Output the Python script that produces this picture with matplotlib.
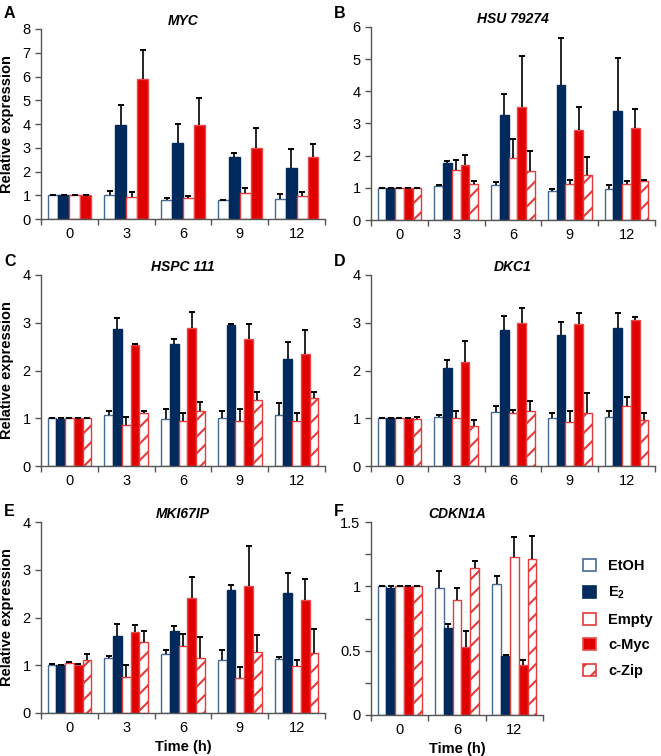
import matplotlib
matplotlib.use('Agg')
import matplotlib.pyplot as plt
import matplotlib.patches as mpatches
import numpy as np

plt.rcParams['font.family'] = ['Liberation Sans', 'DejaVu Sans']
plt.rcParams['mathtext.fontset'] = 'custom'
plt.rcParams['mathtext.rm'] = 'Liberation Sans'
plt.rcParams['mathtext.bf'] = 'Liberation Sans:bold'
plt.rcParams['hatch.linewidth'] = 1.5

# ---- data ----
series = ['EtOH', 'E2', 'Empty', 'c-Myc', 'c-Zip']
times5 = ['0', '3', '6', '9', '12']
times3 = ['0', '6', '12']

myc_vals = {
    'EtOH': [1.0, 1.0, 0.8, 0.78, 0.85],
    'E2': [1.0, 3.95, 3.22, 2.62, 2.15],
    'Empty': [1.0, 0.92, 0.88, 1.1, 0.95],
    'c-Myc': [1.0, 5.9, 3.95, 2.97, 2.6],
}
myc_err = {
    'EtOH': [0.0, 0.2, 0.1, 0.03, 0.22],
    'E2': [0.02, 0.85, 0.8, 0.17, 0.8],
    'Empty': [0.0, 0.2, 0.08, 0.22, 0.17],
    'c-Myc': [0.0, 1.2, 1.15, 0.85, 0.55],
}

hsu_vals = {
    'EtOH': [1.0, 1.05, 1.1, 0.9, 0.97],
    'E2': [1.0, 1.77, 3.27, 4.2, 3.4],
    'Empty': [1.0, 1.55, 1.92, 1.13, 1.13],
    'c-Myc': [1.0, 1.7, 3.5, 2.8, 2.85],
    'c-Zip': [1.0, 1.13, 1.53, 1.4, 1.22],
}
hsu_err = {
    'EtOH': [0.0, 0.05, 0.07, 0.07, 0.13],
    'E2': [0.0, 0.07, 0.65, 1.45, 1.63],
    'Empty': [0.0, 0.33, 0.6, 0.12, 0.08],
    'c-Myc': [0.0, 0.33, 1.6, 0.7, 0.6],
    'c-Zip': [0.0, 0.08, 0.6, 0.57, 0.02],
}

hspc_vals = {
    'EtOH': [1.0, 1.06, 0.98, 1.0, 1.07],
    'E2': [0.99, 2.87, 2.55, 2.95, 2.25],
    'Empty': [1.0, 0.86, 0.95, 0.95, 0.95],
    'c-Myc': [1.0, 2.53, 2.88, 2.67, 2.35],
    'c-Zip': [1.0, 1.12, 1.15, 1.38, 1.43],
}
hspc_err = {
    'EtOH': [0.0, 0.1, 0.22, 0.15, 0.24],
    'E2': [0.01, 0.22, 0.1, 0.03, 0.35],
    'Empty': [0.0, 0.17, 0.16, 0.24, 0.16],
    'c-Myc': [0.0, 0.02, 0.35, 0.3, 0.5],
    'c-Zip': [0.0, 0.04, 0.18, 0.18, 0.11],
}

dkc_vals = {
    'EtOH': [1.0, 1.03, 1.13, 1.0, 1.03],
    'E2': [1.0, 2.05, 2.85, 2.75, 2.9],
    'Empty': [1.0, 1.0, 1.1, 0.93, 1.25],
    'c-Myc': [1.0, 2.17, 3.0, 2.98, 3.05],
    'c-Zip': [0.98, 0.83, 1.15, 1.12, 0.97],
}
dkc_err = {
    'EtOH': [0.0, 0.03, 0.12, 0.12, 0.12],
    'E2': [0.01, 0.18, 0.3, 0.27, 0.3],
    'Empty': [0.0, 0.15, 0.08, 0.22, 0.2],
    'c-Myc': [0.0, 0.45, 0.3, 0.22, 0.08],
    'c-Zip': [0.04, 0.14, 0.22, 0.4, 0.14],
}

mki_vals = {
    'EtOH': [1.01, 1.15, 1.24, 1.12, 1.14],
    'E2': [1.0, 1.61, 1.72, 2.58, 2.51],
    'Empty': [1.05, 0.76, 1.4, 0.73, 0.98],
    'c-Myc': [1.01, 1.69, 2.4, 2.65, 2.36],
    'c-Zip': [1.12, 1.48, 1.15, 1.28, 1.26],
}
mki_err = {
    'EtOH': [0.01, 0.04, 0.08, 0.2, 0.04],
    'E2': [0.0, 0.26, 0.1, 0.1, 0.43],
    'Empty': [0.02, 0.24, 0.25, 0.24, 0.14],
    'c-Myc': [0.01, 0.16, 0.45, 0.85, 0.45],
    'c-Zip': [0.12, 0.24, 0.44, 0.36, 0.49],
}

cdk_vals = {
    'EtOH': [1.0, 0.99, 1.02],
    'E2': [0.99, 0.68, 0.46],
    'Empty': [1.0, 0.89, 1.23],
    'c-Myc': [1.0, 0.53, 0.39],
    'c-Zip': [1.0, 1.14, 1.21],
}
cdk_err = {
    'EtOH': [0.0, 0.13, 0.06],
    'E2': [0.01, 0.03, 0.01],
    'Empty': [0.0, 0.1, 0.15],
    'c-Myc': [0.0, 0.12, 0.04],
    'c-Zip': [0.0, 0.06, 0.18],
}

# ---- styles ----
NAVY = '#002a5c'
RED = '#e00000'
styles = {
    'EtOH': dict(facecolor='white', edgecolor='#46698f', hatch=None),
    'E2': dict(facecolor=NAVY, edgecolor=NAVY, hatch=None),
    'Empty': dict(facecolor='white', edgecolor='#e53a3a', hatch=None),
    'c-Myc': dict(facecolor=RED, edgecolor='#e84a4a', hatch=None),
    'c-Zip': dict(facecolor='white', edgecolor='#e53a3a', hatch='//'),
}

W, H = 661, 756
fig = plt.figure(figsize=(W / 100, H / 100), dpi=100)


def rect(left, right, y0, ytop):
    return [left / W, 1 - y0 / H, (right - left) / W, (y0 - ytop) / H]


def panel(r, vals, errs, labels, ymax, yticks, title, ylabel=False,
          xlabel=False, minor_y=None):
    ax = fig.add_axes(r)
    names = [s for s in series if s in vals]
    n = len(names)
    x = np.arange(len(labels))
    gw = 0.77
    bw = gw / n
    for i, s in enumerate(names):
        pos = x - gw / 2 + bw * (i + 0.5)
        st = styles[s]
        ax.bar(pos, vals[s], bw, facecolor=st['facecolor'],
               edgecolor=st['edgecolor'], hatch=st['hatch'], linewidth=1.0,
               zorder=2)
        v = np.array(vals[s])
        err = np.array(errs[s])
        # upper error bars only, cap on top
        ax.vlines(pos, v, v + err, color='black', linewidth=1.2, zorder=3)
        ax.plot(pos, v + err, linestyle='none', marker='_', markersize=5,
                markeredgewidth=1.4, color='black', zorder=3)
    ax.set_xlim(-0.5, len(labels) - 0.5)
    ax.set_ylim(0, ymax)
    ax.set_yticks(yticks)
    ax.set_yticklabels([('%g' % t) for t in yticks])
    if minor_y is not None:
        ax.set_yticks(minor_y, minor=True)
    ax.set_xticks(x)
    ax.set_xticklabels(labels)
    ax.set_xticks(np.arange(len(labels) + 1) - 0.5, minor=True)
    ax.tick_params(axis='x', which='major', length=0, pad=6, labelsize=10.5)
    ax.tick_params(axis='x', which='minor', length=4, width=1, color='#555555')
    ax.tick_params(axis='y', which='both', length=4, width=1, color='#555555',
                   labelsize=10.5)
    for sp in ['top', 'right']:
        ax.spines[sp].set_visible(False)
    for sp in ['left', 'bottom']:
        ax.spines[sp].set_color('#555555')
        ax.spines[sp].set_linewidth(1.0)
    ax.set_title(title, fontsize=10, fontweight='bold', fontstyle='italic',
                 pad=3)
    if ylabel:
        ax.set_ylabel('Relative expression', fontsize=10.5, fontweight='bold',
                      labelpad=6)
    if xlabel:
        ax.set_xlabel('Time (h)', fontsize=10.5, fontweight='bold', labelpad=3)
    return ax


panel(rect(41, 325, 219, 29), myc_vals, myc_err, times5, 8, range(0, 9),
      'MYC', ylabel=True)
panel(rect(371, 655, 220, 27), hsu_vals, hsu_err, times5, 6, range(0, 7),
      'HSU 79274')
panel(rect(41, 325, 466, 275), hspc_vals, hspc_err, times5, 4, range(0, 5),
      'HSPC 111', ylabel=True)
panel(rect(371, 655, 466, 275), dkc_vals, dkc_err, times5, 4, range(0, 5),
      'DKC1')
panel(rect(41, 325, 713, 522), mki_vals, mki_err, times5, 4, range(0, 5),
      'MKI67IP', ylabel=True, xlabel=True)
panel(rect(371, 543, 715, 522), cdk_vals, cdk_err, times3, 1.5,
      [0, 0.5, 1, 1.5], 'CDKN1A', xlabel=True, minor_y=[0.25, 0.75, 1.25])

# panel letters
for letter, (px, py) in zip('ABCDEF', [(4, 14), (334, 14), (4, 262),
                                       (334, 262), (4, 512), (334, 512)]):
    fig.text(px / W, 1 - py / H, letter, fontsize=11.5, fontweight='bold',
             va='center', ha='left')

# legend
handles = []
leg_labels = ['EtOH', r'E$_\mathbf{2}$', 'Empty', 'c-Myc', 'c-Zip']
for s in series:
    st = styles[s]
    handles.append(mpatches.Patch(facecolor=st['facecolor'],
                                  edgecolor=st['edgecolor'],
                                  hatch=st['hatch'], linewidth=1.2))
fig.legend(handles, leg_labels, loc='upper left',
           bbox_to_anchor=(570 / W, 1 - 546 / H), frameon=False,
           prop={'weight': 'bold', 'size': 10.5}, handlelength=0.9,
           handleheight=0.9, handletextpad=0.8, labelspacing=0.78)

fig.savefig('out.png', dpi=100)
